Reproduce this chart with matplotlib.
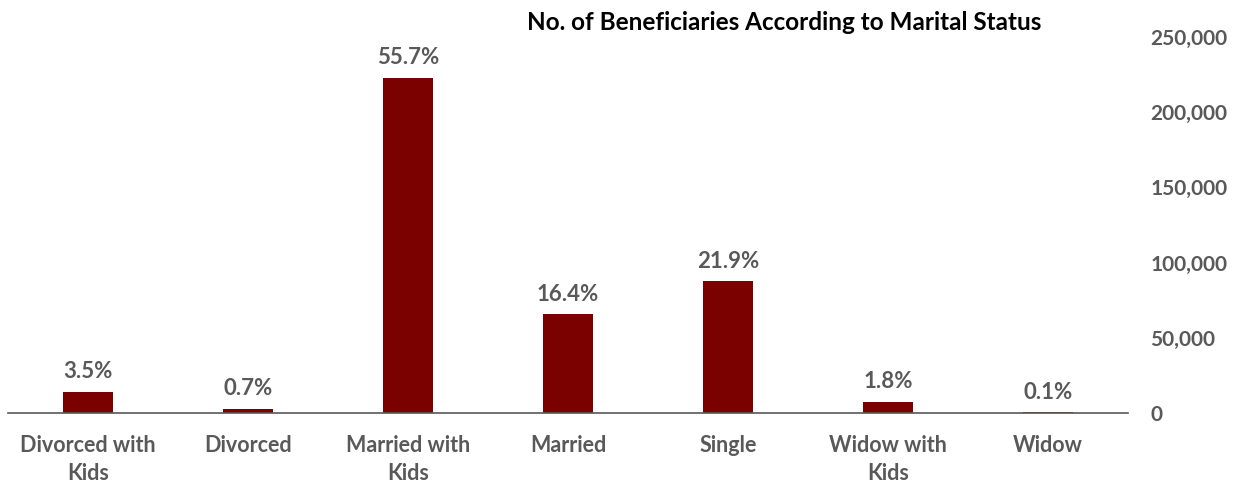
import matplotlib.pyplot as plt
import numpy as np

plt.rcParams['font.family'] = ['Lato', 'DejaVu Sans']

categories = ['Divorced with\nKids', 'Divorced', 'Married with\nKids', 'Married',
              'Single', 'Widow with\nKids', 'Widow']
share_pct = [3.5, 0.7, 55.7, 16.4, 21.9, 1.8, 0.1]
total_beneficiaries = 400000
y_ticks = [0, 50000, 100000, 150000, 200000, 250000]

counts = [p / 100 * total_beneficiaries for p in share_pct]
grey = '#595959'

fig = plt.figure(figsize=(12.41, 4.82), dpi=100)
ax = fig.add_axes([8 / 1241, 69 / 482, 1120 / 1241, 376 / 482])

x = np.arange(len(categories))
bars = ax.bar(x, counts, width=0.31, color='#7B0000')

# percentage labels over each bar
for bar, p in zip(bars, share_pct):
    ax.annotate(f'{p:.1f}%', (bar.get_x() + bar.get_width() / 2, bar.get_height()),
                xytext=(0, 7), textcoords='offset points', ha='center', va='bottom',
                fontsize=16, fontweight='bold', color=grey)

ax.set_xlim(-0.5, len(categories) - 0.5)
ax.set_ylim(0, 250000)
ax.set_xticks(x)
ax.set_xticklabels(categories, fontsize=15.5, fontweight='bold', color=grey, linespacing=1.4)
ax.set_yticks(y_ticks)
ax.set_yticklabels([f'{v:,}' for v in y_ticks], fontsize=15, fontweight='bold', color=grey)
ax.yaxis.tick_right()
ax.tick_params(axis='y', length=0, pad=16)
ax.tick_params(axis='x', length=0, pad=16)

for side in ['top', 'left', 'right']:
    ax.spines[side].set_visible(False)
ax.spines['bottom'].set_color(grey)
ax.spines['bottom'].set_linewidth(1.2)

fig.text(784 / 1241, 1 - 22 / 482, 'No. of Beneficiaries According to Marital Status',
         ha='center', va='center', fontsize=17.5, fontweight='bold', color='black')

fig.savefig('out.png', dpi=100)
